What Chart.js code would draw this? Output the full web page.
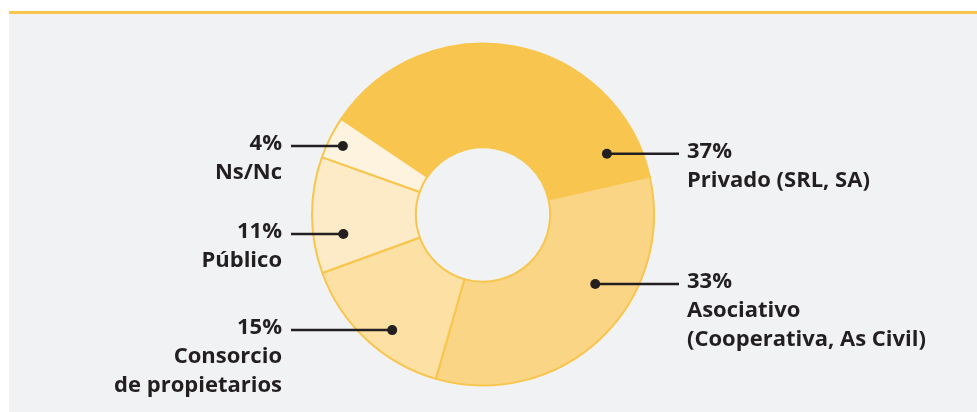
<!DOCTYPE html>
<html>
<head>
<meta charset="utf-8">
<script src="https://cdn.jsdelivr.net/npm/chart.js@4/dist/chart.umd.min.js"></script>
<style>
  html, body { margin: 0; padding: 0; background: #ffffff; }
  #panel { position: absolute; left: 9px; top: 11px; width: 968px; height: 398px;
           border-top: 3px solid #f8c54d; background: #f1f2f4; }
  #wrap { position: absolute; left: 0; top: 0; width: 977px; height: 412px; }
</style>
</head>
<body>
<div id="panel"></div>
<div id="wrap"><canvas id="tipoChart" width="977" height="412"></canvas></div>
<script>
// datos (porcentajes)
var categorias = ['Privado (SRL, SA)', 'Asociativo (Cooperativa, As Civil)', 'Consorcio de propietarios', 'Público', 'Ns/Nc'];
var valores = [37, 33, 15, 11, 4];
// texto de cada etiqueta, línea por línea
var etiquetas = [
    ['Privado (SRL, SA)'],
    ['Asociativo', '(Cooperativa, As Civil)'],
    ['Consorcio', 'de propietarios'],
    ['Público'],
    ['Ns/Nc']
];
var colores = ['#f8c64e', '#f9d585', '#fce0a4', '#fdebc8', '#fdf3de'];

// dónde cae el punto dentro de cada porción (fracción del ángulo, radio) y lado del texto
var anclas = [
    { t: 0.90, r: 138, lado: 1 },
    { t: 0.375, r: 132, lado: 1 },
    { t: 0.41, r: 147, lado: -1 },
    { t: 0.305, r: 141, lado: -1 },
    { t: 0.45, r: 156, lado: -1 }
];

var leaderPlugin = {
    id: 'leaders',
    afterDraw: function (chart) {
        var ctx = chart.ctx;
        var meta = chart.getDatasetMeta(0);
        ctx.save();
        meta.data.forEach(function (arc, i) {
            var a = anclas[i];
            var ang = arc.startAngle + a.t * (arc.endAngle - arc.startAngle);
            var px = arc.x + Math.cos(ang) * a.r;
            var py = arc.y + Math.sin(ang) * a.r;
            var lineEnd = a.lado > 0 ? 679 : 291;
            var textX = a.lado > 0 ? 687 : 282;

            ctx.strokeStyle = '#231f20';
            ctx.lineWidth = 2.5;
            ctx.beginPath();
            ctx.moveTo(px, py);
            ctx.lineTo(lineEnd, py);
            ctx.stroke();
            ctx.fillStyle = '#231f20';
            ctx.beginPath();
            ctx.arc(px, py, 5, 0, Math.PI * 2);
            ctx.fill();

            ctx.font = 'bold 22px "Open Sans"';
            ctx.textAlign = a.lado > 0 ? 'left' : 'right';
            ctx.textBaseline = 'middle';
            var lines = [valores[i] + '%'].concat(etiquetas[i]);
            lines.forEach(function (txt, k) {
                ctx.fillText(txt, textX, py - 2 + k * 29);
            });
        });
        ctx.restore();
    }
};

var ctx = document.getElementById('tipoChart').getContext('2d');
var tipoChart = new Chart(ctx, {
    type: 'doughnut',
    data: {
        labels: categorias,
        datasets: [{
            data: valores,
            backgroundColor: colores,
            borderColor: '#f8c54d',
            borderWidth: 2
        }]
    },
    options: {
        responsive: false,
        animation: false,
        rotation: -56,
        radius: 171,
        cutout: 67,
        layout: { padding: { left: 0, right: 11, top: 43, bottom: 26 } },
        plugins: {
            legend: { display: false },
            tooltip: { enabled: false }
        }
    },
    plugins: [leaderPlugin]
});
</script>
</body>
</html>
